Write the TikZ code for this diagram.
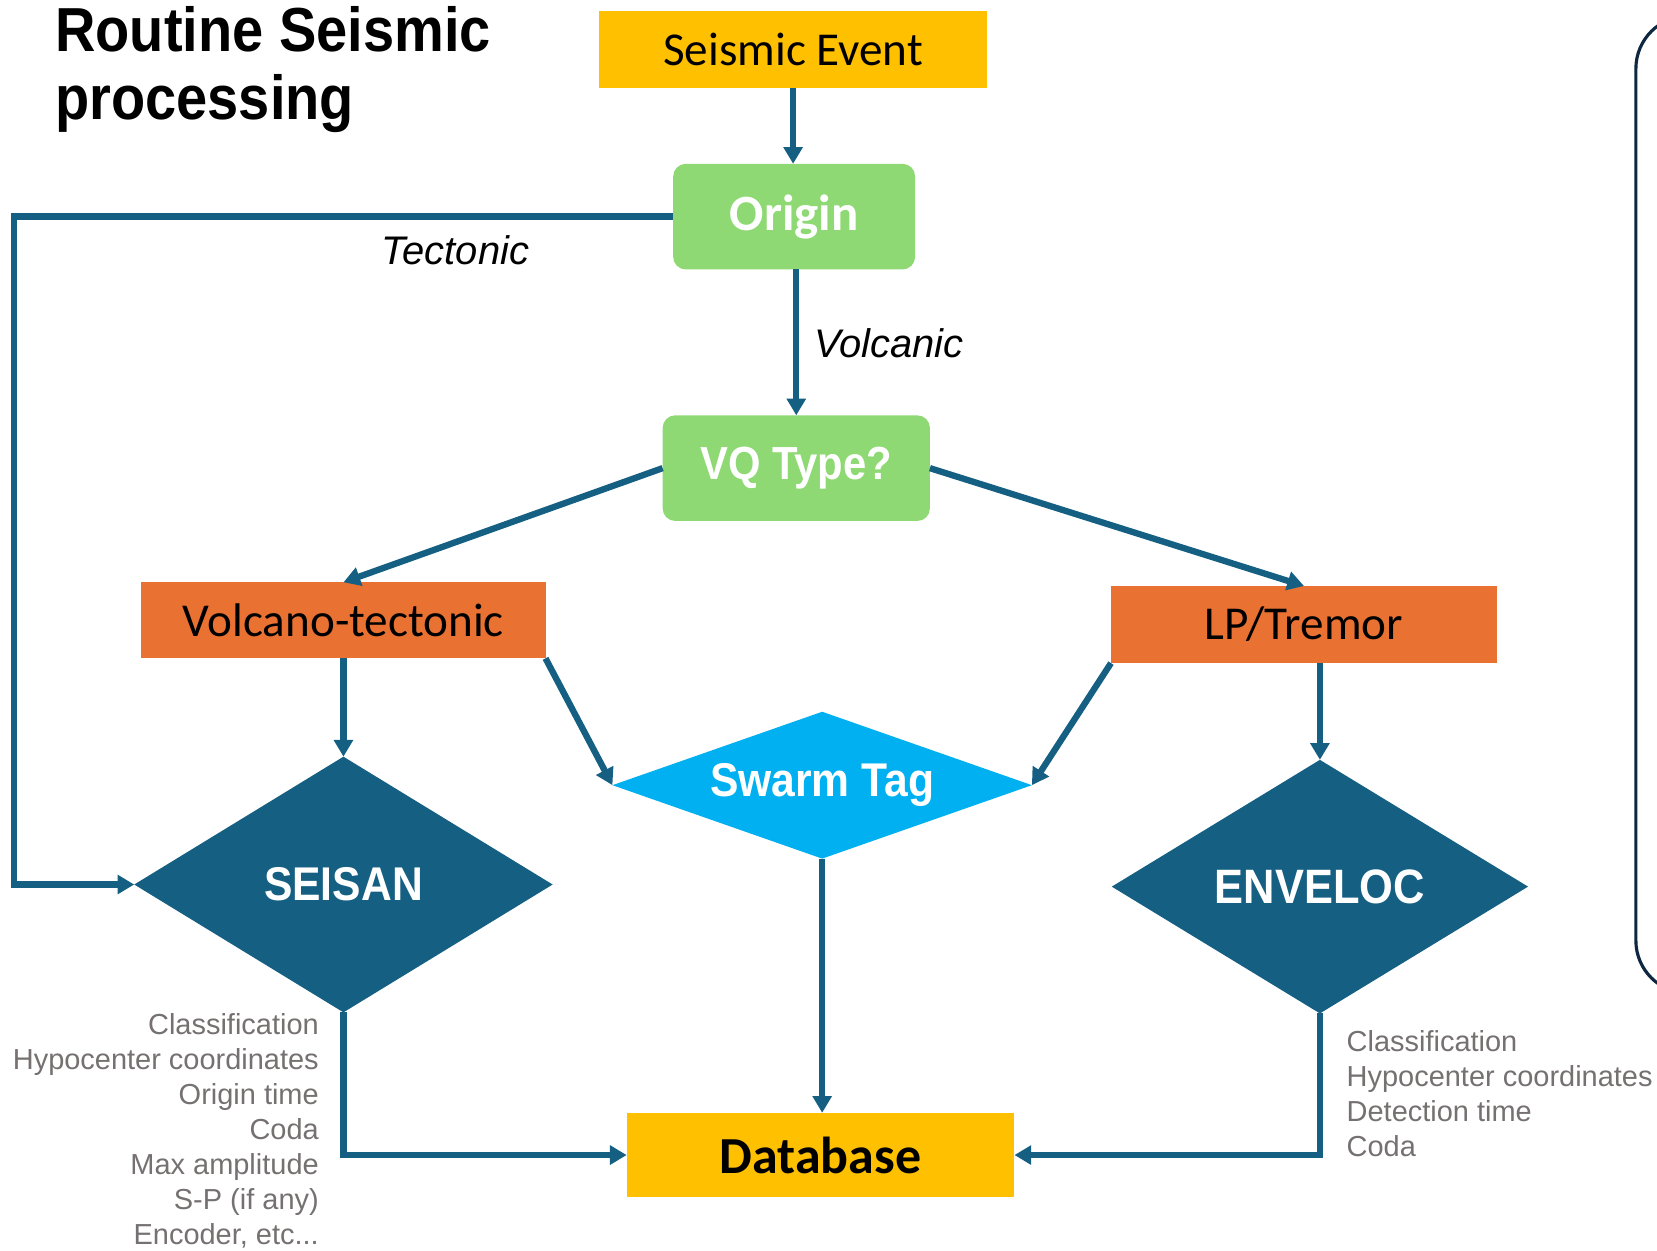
\documentclass[tikz,border=0pt]{standalone}
\usepackage{fontspec}
\setmainfont{Liberation Sans}
\newfontfamily\calibri{Carlito}
\newfontfamily\aptosnarrow[FakeStretch=0.9]{Liberation Sans}
\usepackage{tikz}
\usetikzlibrary{arrows.meta,positioning,shapes.geometric,calc}
\definecolor{gold}{RGB}{255,192,0}
\definecolor{leaf}{RGB}{142,217,115}
\definecolor{rust}{RGB}{233,113,50}
\definecolor{seablue}{RGB}{21,96,130}
\definecolor{skyblue}{RGB}{0,176,240}
\definecolor{navy}{RGB}{14,40,65}
\definecolor{notegray}{RGB}{118,113,113}

\begin{document}
\begin{tikzpicture}[x=0.02cm, y=-0.02cm,
    link/.style={seablue, line width=0.12cm, -{Triangle[length=9pt,width=10pt]}},
    goldbox/.style={fill=gold, inner sep=0pt, outer sep=0pt, minimum width=7.34cm},
    greenbox/.style={fill=leaf, rounded corners=0.24cm, inner sep=0pt, outer sep=0pt,
                     text=white, minimum height=2cm},
    rustbox/.style={fill=rust, inner sep=0pt, outer sep=0pt, minimum height=1.46cm,
                    font=\calibri\fontsize{25.4}{30}\selectfont},
    decision/.style={diamond, inner sep=0pt, outer sep=0pt, text=white,
                     font=\aptosnarrow\bfseries\fontsize{25.5}{30}\selectfont},
    branchlabel/.style={font=\itshape\fontsize{21.5}{26}\selectfont, inner sep=0pt},
    notes/.style={text=notegray, inner sep=0pt, font=\fontsize{15.6}{18.8}\selectfont}]

    \useasboundingbox (0,0) rectangle (1568,1183);

    % title
    \node (title) [anchor=north west, align=left, inner sep=0pt,
          font=\aptosnarrow\bfseries\fontsize{33.5}{36.4}\selectfont] at (52,6)
          {Routine Seismic\\processing};

    % side panel, cut by the page edge
    \draw[navy, line width=0.06cm, rounded corners=1cm]
        (1548,15) rectangle (1680,940);

    % boxes
    \node (event) [goldbox, minimum height=1.46cm,
          font=\calibri\fontsize{25.4}{30}\selectfont] at (750.5,46.5) {Seismic Event};
    \node (origin) [greenbox, minimum width=4.58cm,
          font=\calibri\bfseries\fontsize{27.4}{32}\selectfont] at (751.5,205) {Origin};
    \node (vqtype) [greenbox, minimum width=5.06cm,
          font=\aptosnarrow\bfseries\fontsize{25}{30}\selectfont] at (753.5,443) {VQ Type?};
    \node (vt) [rustbox, minimum width=7.65cm, minimum height=1.44cm] at (325,587) {Volcano-tectonic};
    \node (lp) [rustbox, minimum width=7.31cm] at (1234,591) {LP/Tremor};
    \node (swarm) [decision, fill=skyblue, aspect=2.86, minimum width=7.94cm, minimum height=2.78cm]
          at (778,743) {Swarm Tag};
    \node (seisan) [decision, fill=seablue, aspect=1.64, minimum width=7.92cm, minimum height=4.84cm]
          at (325,837) {SEISAN};
    \node (enveloc) [decision, fill=seablue, aspect=1.64, minimum width=7.88cm, minimum height=4.8cm,
          font=\aptosnarrow\bfseries\fontsize{26}{30}\selectfont] at (1249,839) {ENVELOC};
    \node (db) [goldbox, minimum height=1.6cm,
          font=\calibri\bfseries\fontsize{28}{32}\selectfont] at (776.5,1093) {Database};

    % outputs of the two locators
    \node (seisanout) [notes, anchor=north east, align=right] at (302,959)
          {Classification\\Hypocenter coordinates\\Origin time\\Coda\\Max amplitude\\S-P (if any)\\Encoder, etc...};
    \node (envelocout) [notes, anchor=north west, align=left] at (1274,975)
          {Classification\\Hypocenter coordinates\\Detection time\\Coda};

    % links
    \draw[link] (event.south) -- (event.south |- origin.north);
    \draw[link] (origin.south -| vqtype.north) -- (vqtype.north);
    \node (volclabel) [branchlabel, anchor=west] at (770,325) {Volcanic};
    \coordinate (tecturn) at (13,205);
    \draw[link] (origin.west) -- (tecturn) |- (seisan.west);
    \node (teclabel) [branchlabel] at (431,237) {Tectonic};
    \draw[link] (vqtype.west) -- (vt.north);
    \draw[link] (vqtype.east) -- (lp.north);
    \draw[link] (vt.south) -- (seisan.north);
    \draw[link] (vt.south east) -- (swarm.west);
    \draw[link] (lp.south west) -- (swarm.east);
    \draw[link] (lp.south -| enveloc.north) -- (enveloc.north);
    \draw[link] (swarm.south) -- (swarm.south |- db.north);
    \draw[link] (seisan.south) |- (db.west);
    \draw[link] (enveloc.south) |- (db.east);
\end{tikzpicture}
\end{document}
